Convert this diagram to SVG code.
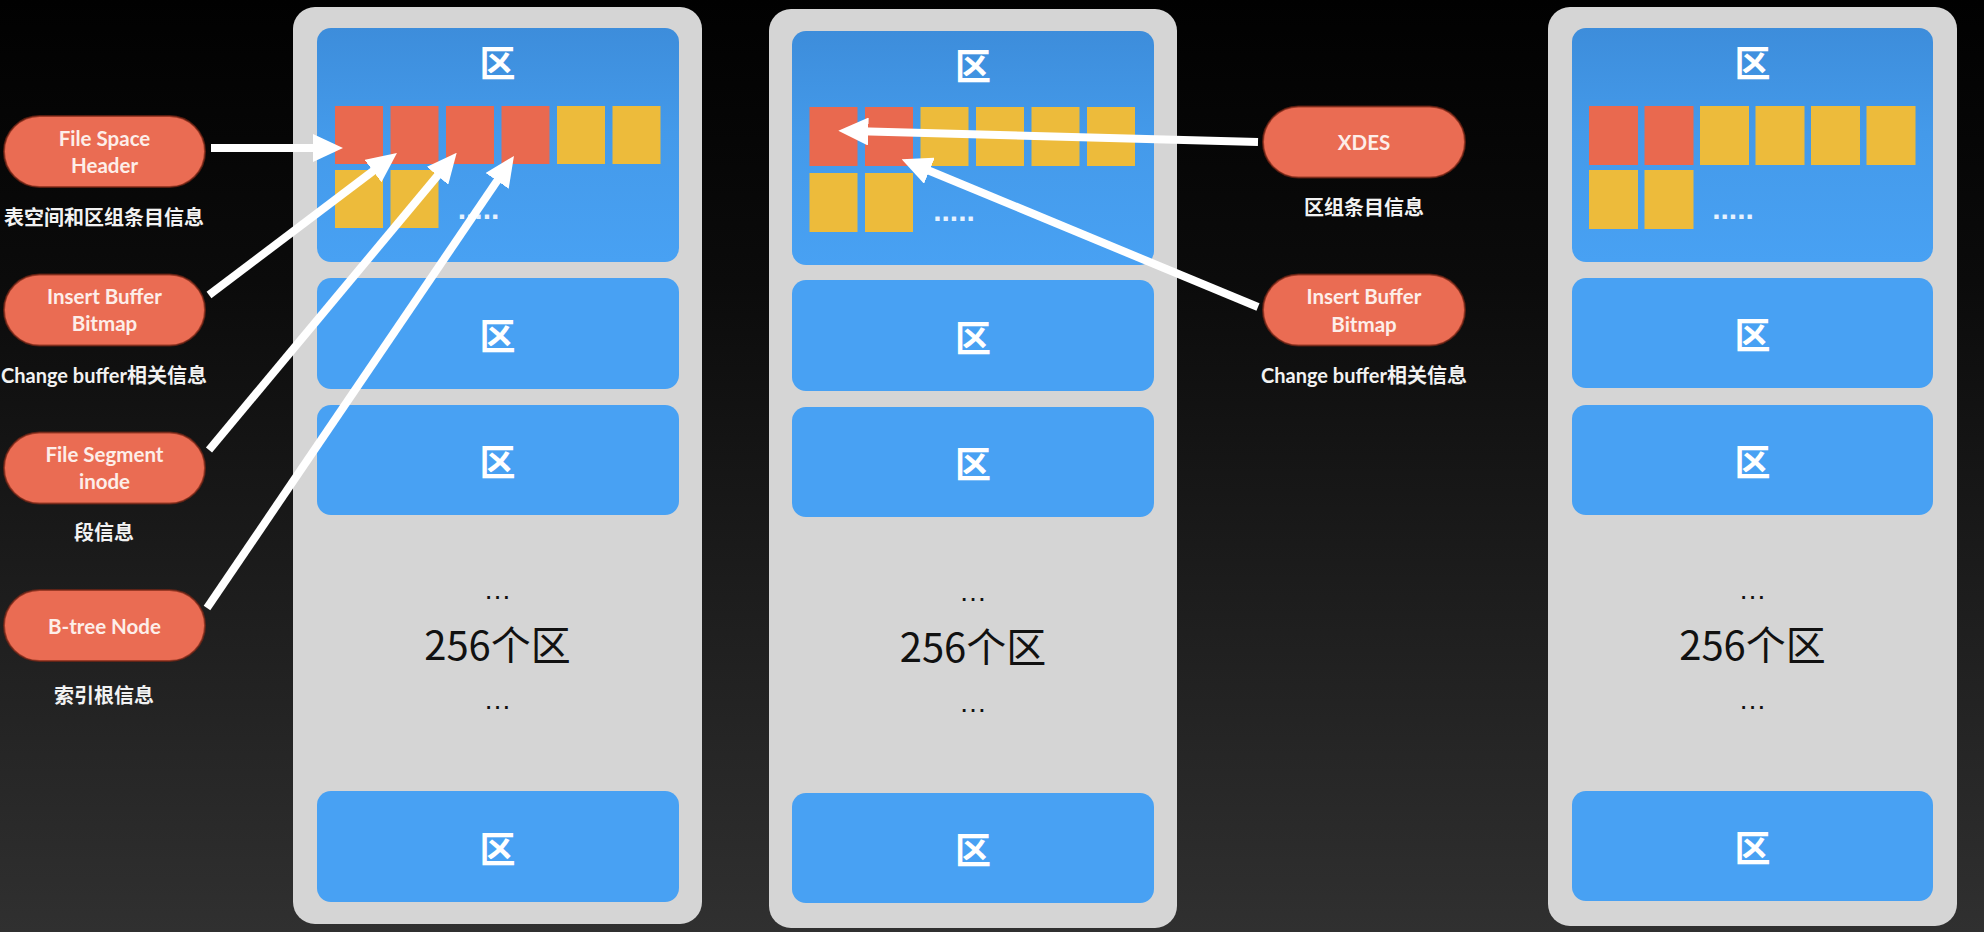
<svg xmlns="http://www.w3.org/2000/svg" width="1984" height="932" viewBox="0 0 1984 932">
<defs>
  <linearGradient id="bg" x1="0" y1="0" x2="0" y2="1">
    <stop offset="0" stop-color="#010101"/>
    <stop offset="0.3" stop-color="#0b0b0b"/>
    <stop offset="1" stop-color="#303030"/>
  </linearGradient>
  <linearGradient id="topblue" x1="0" y1="0" x2="0" y2="1">
    <stop offset="0" stop-color="#3d8ddb"/>
    <stop offset="0.45" stop-color="#449aea"/>
    <stop offset="1" stop-color="#48a1f3"/>
  </linearGradient>
  <marker id="ah" viewBox="0 0 30 28" markerWidth="30" markerHeight="28" refX="8" refY="14" orient="auto" markerUnits="userSpaceOnUse">
    <path d="M0,0 L30,14 L0,28 z" fill="#ffffff"/>
  </marker>
  <style>
    .panel { fill: #d5d5d5; }
    .blk { fill: #48a1f3; }
    .blk1 { fill: url(#topblue); }
    .red { fill: #e9694f; }
    .yel { fill: #edbb3b; }
    .qu { font-family: "Noto Sans CJK SC", "Noto Sans", sans-serif; font-size: 36px; font-weight: bold; fill: #ffffff; text-anchor: middle; dominant-baseline: central; }
    .big { font-family: "Noto Sans CJK SC", "Noto Sans", sans-serif; font-size: 40px; font-weight: normal; fill: #111111; text-anchor: middle; dominant-baseline: central; }
    .ell { font-family: "Liberation Sans", sans-serif; font-size: 28px; fill: #111111; text-anchor: middle; }
    .dots { font-family: "Liberation Sans", sans-serif; font-size: 30px; font-weight: bold; fill: #e6f2ff; text-anchor: middle; }
    .oval { fill: #ea6c53; stroke: #7c2716; stroke-width: 2; stroke-opacity: 0.7; }
    .ot { font-family: Lato, "Liberation Sans", sans-serif; font-size: 20.5px; font-weight: bold; fill: #fdeee9; text-anchor: middle; dominant-baseline: central; }
    .lbl { font-family: Lato, "Liberation Sans", "Noto Sans CJK SC", sans-serif; font-size: 20px; font-weight: bold; fill: #f2f2f2; text-anchor: middle; dominant-baseline: central; }
    .conn { stroke: #ffffff; stroke-width: 8; fill: none; marker-end: url(#ah); }
  </style>
</defs>

<rect x="0" y="0" width="1984" height="932" fill="url(#bg)"/>

<!-- Panel 1 -->
<g id="panel1">
  <rect class="panel" x="293" y="7" width="409" height="917" rx="22"/>
  <rect class="blk1" x="317" y="28" width="362" height="234" rx="14"/>
  <text class="qu" x="497.5" y="61">区</text>
  <rect class="red" x="335" y="106" width="48" height="58"/>
  <rect class="red" x="390.5" y="106" width="48" height="58"/>
  <rect class="red" x="446" y="106" width="48" height="58"/>
  <rect class="red" x="501.5" y="106" width="48" height="58"/>
  <rect class="yel" x="557" y="106" width="48" height="58"/>
  <rect class="yel" x="612.5" y="106" width="48" height="58"/>
  <rect class="yel" x="335" y="170" width="48" height="58"/>
  <rect class="yel" x="390.5" y="170" width="48" height="58"/>
  <text class="dots" x="478.5" y="219">.....</text>
  <rect class="blk" x="317" y="278" width="362" height="111" rx="14"/>
  <text class="qu" x="497.5" y="333.5">区</text>
  <rect class="blk" x="317" y="405" width="362" height="110" rx="14"/>
  <text class="qu" x="497.5" y="460">区</text>
  <text class="ell" x="497.5" y="599">…</text>
  <text class="big" x="497.5" y="643">256个区</text>
  <text class="ell" x="497.5" y="709">…</text>
  <rect class="blk" x="317" y="791" width="362" height="111" rx="14"/>
  <text class="qu" x="497.5" y="846.5">区</text>
</g>

<!-- Panel 2 -->
<g id="panel2">
  <rect class="panel" x="769" y="9" width="408" height="919" rx="22"/>
  <rect class="blk1" x="792" y="31" width="362" height="234" rx="14"/>
  <text class="qu" x="973" y="63.5">区</text>
  <rect class="red" x="809.5" y="107" width="48" height="59"/>
  <rect class="red" x="865" y="107" width="48" height="59"/>
  <rect class="yel" x="920.5" y="107" width="48" height="59"/>
  <rect class="yel" x="976" y="107" width="48" height="59"/>
  <rect class="yel" x="1031.5" y="107" width="48" height="59"/>
  <rect class="yel" x="1087" y="107" width="48" height="59"/>
  <rect class="yel" x="809.5" y="173" width="48" height="59"/>
  <rect class="yel" x="865" y="173" width="48" height="59"/>
  <text class="dots" x="954" y="221">.....</text>
  <rect class="blk" x="792" y="280" width="362" height="111" rx="14"/>
  <text class="qu" x="973" y="335.5">区</text>
  <rect class="blk" x="792" y="407" width="362" height="110" rx="14"/>
  <text class="qu" x="973" y="462">区</text>
  <text class="ell" x="973" y="601">…</text>
  <text class="big" x="973" y="645">256个区</text>
  <text class="ell" x="973" y="712">…</text>
  <rect class="blk" x="792" y="793" width="362" height="110" rx="14"/>
  <text class="qu" x="973" y="848">区</text>
</g>

<!-- Panel 3 -->
<g id="panel3">
  <rect class="panel" x="1548" y="7" width="409" height="919" rx="22"/>
  <rect class="blk1" x="1572" y="28" width="361" height="234" rx="14"/>
  <text class="qu" x="1752.5" y="61">区</text>
  <rect class="red" x="1589" y="106" width="49" height="59"/>
  <rect class="red" x="1644.5" y="106" width="49" height="59"/>
  <rect class="yel" x="1700" y="106" width="49" height="59"/>
  <rect class="yel" x="1755.5" y="106" width="49" height="59"/>
  <rect class="yel" x="1811" y="106" width="49" height="59"/>
  <rect class="yel" x="1866.5" y="106" width="49" height="59"/>
  <rect class="yel" x="1589" y="170" width="49" height="59"/>
  <rect class="yel" x="1644.5" y="170" width="49" height="59"/>
  <text class="dots" x="1733" y="219">.....</text>
  <rect class="blk" x="1572" y="278" width="361" height="110" rx="14"/>
  <text class="qu" x="1752.5" y="333">区</text>
  <rect class="blk" x="1572" y="405" width="361" height="110" rx="14"/>
  <text class="qu" x="1752.5" y="460">区</text>
  <text class="ell" x="1752.5" y="599">…</text>
  <text class="big" x="1752.5" y="643">256个区</text>
  <text class="ell" x="1752.5" y="709">…</text>
  <rect class="blk" x="1572" y="791" width="361" height="110" rx="14"/>
  <text class="qu" x="1752.5" y="846">区</text>
</g>

<!-- Left nodes -->
<g id="node-fsh">
  <rect class="oval" x="4" y="116" width="201" height="71" rx="35.5"/>
  <text class="ot" x="104.5" y="138">File Space</text>
  <text class="ot" x="104.5" y="165">Header</text>
  <text class="lbl" x="104" y="217">表空间和区组条目信息</text>
</g>
<g id="node-ibb-left">
  <rect class="oval" x="4" y="274.5" width="201" height="71" rx="35.5"/>
  <text class="ot" x="104.5" y="296">Insert Buffer</text>
  <text class="ot" x="104.5" y="323">Bitmap</text>
  <text class="lbl" x="104" y="375">Change buffer相关信息</text>
</g>
<g id="node-fsi">
  <rect class="oval" x="4" y="432.5" width="201" height="71" rx="35.5"/>
  <text class="ot" x="104.5" y="454">File Segment</text>
  <text class="ot" x="104.5" y="481">inode</text>
  <text class="lbl" x="104" y="532">段信息</text>
</g>
<g id="node-btree">
  <rect class="oval" x="4" y="590" width="201" height="71" rx="35.5"/>
  <text class="ot" x="104.5" y="625.5">B-tree Node</text>
  <text class="lbl" x="104" y="695">索引根信息</text>
</g>

<!-- Right nodes -->
<g id="node-xdes">
  <rect class="oval" x="1263" y="106.5" width="202" height="71" rx="35.5"/>
  <text class="ot" x="1364" y="142">XDES</text>
  <text class="lbl" x="1364" y="207">区组条目信息</text>
</g>
<g id="node-ibb-right">
  <rect class="oval" x="1263" y="274.5" width="202" height="71" rx="35.5"/>
  <text class="ot" x="1364" y="296">Insert Buffer</text>
  <text class="ot" x="1364" y="324">Bitmap</text>
  <text class="lbl" x="1364" y="375">Change buffer相关信息</text>
</g>

<!-- Connectors -->
<g id="connectors">
  <line class="conn" x1="211" y1="148" x2="321" y2="148"/>
  <line class="conn" x1="209" y1="295" x2="379.4" y2="166.3"/>
  <line class="conn" x1="209" y1="450" x2="442.6" y2="169.6"/>
  <line class="conn" x1="207" y1="608" x2="501.6" y2="174.2"/>
  <line class="conn" x1="1258" y1="142" x2="860.3" y2="131.3"/>
  <line class="conn" x1="1258" y1="307" x2="922" y2="167.7"/>
</g>
</svg>
